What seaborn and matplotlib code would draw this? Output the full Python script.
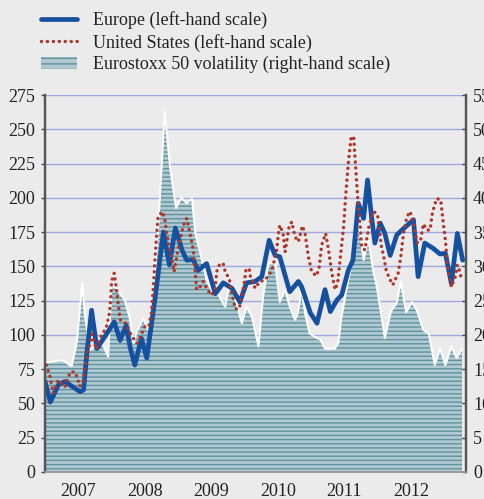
import numpy as np
import pandas as pd
import matplotlib
matplotlib.use('Agg')
import matplotlib.pyplot as plt
from matplotlib.lines import Line2D
from matplotlib.patches import Patch
import seaborn as sns

# time axis in decimal years
europe_t = [2007.00, 2007.08, 2007.20, 2007.30, 2007.42, 2007.53, 2007.58, 2007.63, 2007.70, 2007.78,
            2007.93, 2008.04, 2008.13, 2008.22, 2008.28, 2008.35, 2008.45, 2008.53, 2008.65, 2008.78,
            2008.87, 2008.96, 2009.06, 2009.13, 2009.23, 2009.30, 2009.43, 2009.56, 2009.68, 2009.81,
            2009.93, 2010.03, 2010.16, 2010.26, 2010.37, 2010.46, 2010.53, 2010.68, 2010.81, 2010.86,
            2010.99, 2011.09, 2011.21, 2011.29, 2011.39, 2011.46, 2011.56, 2011.63, 2011.71, 2011.79,
            2011.85, 2011.91, 2011.96, 2012.04, 2012.11, 2012.19, 2012.29, 2012.39, 2012.54, 2012.61,
            2012.71, 2012.84, 2012.94, 2013.02, 2013.11, 2013.20, 2013.28]
europe_v = [66, 51, 63.5, 66, 62, 58.5, 60, 87, 118, 90,
            101, 109.5, 96, 107, 91, 78, 97.5, 83, 125, 175,
            151, 178, 162, 154.5, 155, 147, 152, 130, 138, 134,
            124, 138, 139, 142.5, 169, 158, 157, 131.5, 139, 135,
            116, 108.5, 133, 117, 125.5, 129, 147, 154.5, 196, 185,
            213, 186, 167, 181.5, 174, 158, 173, 177.5, 184, 142.5,
            167, 163, 159, 159.5, 137.5, 174, 154.5]

us_t = [2007.02, 2007.08, 2007.12, 2007.20, 2007.30, 2007.38, 2007.45, 2007.49, 2007.52, 2007.57,
        2007.63, 2007.71, 2007.74, 2007.77, 2007.85, 2007.92, 2007.97, 2007.99, 2008.00, 2008.04,
        2008.07, 2008.10, 2008.13, 2008.20, 2008.31, 2008.39, 2008.50, 2008.56, 2008.60, 2008.63,
        2008.65, 2008.68, 2008.70, 2008.76, 2008.80, 2008.83, 2008.91, 2008.94, 2009.00, 2009.08,
        2009.13, 2009.18, 2009.23, 2009.26, 2009.28, 2009.33, 2009.38, 2009.43, 2009.50, 2009.56,
        2009.58, 2009.63, 2009.68, 2009.71, 2009.77, 2009.81, 2009.84, 2009.86, 2009.92, 2009.96,
        2009.99, 2010.02, 2010.07, 2010.09, 2010.16, 2010.23, 2010.31, 2010.41, 2010.48, 2010.51,
        2010.53, 2010.58, 2010.61, 2010.67, 2010.71, 2010.76, 2010.81, 2010.87, 2010.91, 2010.96,
        2011.01, 2011.08, 2011.12, 2011.16, 2011.22, 2011.26, 2011.31, 2011.36, 2011.40, 2011.44,
        2011.49, 2011.52, 2011.56, 2011.60, 2011.64, 2011.67, 2011.70, 2011.74, 2011.76, 2011.81,
        2011.87, 2011.94, 2012.00, 2012.06, 2012.09, 2012.13, 2012.18, 2012.23, 2012.31, 2012.35,
        2012.39, 2012.44, 2012.49, 2012.54, 2012.60, 2012.65, 2012.69, 2012.74, 2012.79, 2012.82,
        2012.85, 2012.89, 2012.95, 2012.99, 2013.02, 2013.06, 2013.11, 2013.17, 2013.20, 2013.24,
        2013.26]
us_v = [78, 69, 57.5, 67, 62, 73, 73, 68, 62.5, 65,
        85, 100.5, 95, 89.5, 100, 105, 116, 128, 139, 145,
        135, 123, 111, 109.5, 98.5, 94, 106, 106, 116, 135,
        152, 174, 186, 190, 185, 174, 154.5, 146, 162, 180,
        185, 174, 162, 145, 133, 135, 139, 134, 129, 134,
        146, 152, 152, 146, 141, 130, 124, 119, 119, 128,
        136, 147, 148.5, 142, 134, 139, 140, 147, 160.5, 174,
        180, 174, 160.5, 179, 182.5, 171.5, 168, 179.5, 174, 157,
        146, 143, 148.5, 165.5, 174, 163, 146, 133, 138, 156,
        179, 201, 225, 243, 245, 222.5, 201, 179, 164, 162,
        179, 190, 188, 164, 158, 147, 141, 136.5, 145, 157,
        174, 186, 190, 181, 167, 170, 181, 176.5, 176.5, 187.5,
        193.5, 199.5, 198.5, 181, 169, 147, 135, 142.5, 151, 146,
        140]

vol_t = [2007.00, 2007.12, 2007.23, 2007.30, 2007.40, 2007.48, 2007.56, 2007.60, 2007.68, 2007.78,
         2007.85, 2007.95, 2008.00, 2008.07, 2008.13, 2008.20, 2008.28, 2008.33, 2008.38, 2008.48,
         2008.55, 2008.60, 2008.70, 2008.80, 2008.88, 2008.97, 2009.05, 2009.13, 2009.21, 2009.26,
         2009.36, 2009.43, 2009.53, 2009.61, 2009.71, 2009.76, 2009.83, 2009.88, 2009.96, 2010.03,
         2010.11, 2010.21, 2010.28, 2010.36, 2010.46, 2010.53, 2010.61, 2010.68, 2010.76, 2010.80,
         2010.86, 2010.91, 2010.98, 2011.06, 2011.14, 2011.21, 2011.36, 2011.41, 2011.46, 2011.56,
         2011.64, 2011.71, 2011.79, 2011.86, 2011.94, 2011.99, 2012.04, 2012.11, 2012.20, 2012.29,
         2012.35, 2012.43, 2012.52, 2012.59, 2012.69, 2012.77, 2012.86, 2012.94, 2013.02, 2013.11,
         2013.19, 2013.27]
vol_v = [16, 16.1, 16.3, 16.1, 15.4, 19, 27.6, 22.7, 17.8, 18.5,
         19, 16.8, 27.3, 26.8, 26, 25.1, 22.2, 18.8, 20.5, 22.4,
         20.7, 22.2, 35.3, 52.6, 44.5, 38.5, 40, 39.2, 39.9, 34.8,
         30.9, 28, 26, 25.8, 24.1, 26.8, 26.3, 24.5, 21.7, 24.1,
         22.7, 18.3, 25.6, 30.4, 30.4, 24.8, 26.6, 24.1, 22.2, 23.1,
         26.8, 23.1, 20.2, 19.7, 19.3, 18, 18, 18.8, 22.7, 28,
         31.4, 37, 30.9, 34.1, 29, 27, 23.9, 19.5, 23.4, 24.7,
         27.8, 23.3, 24.8, 23.6, 20.7, 20.2, 15.6, 18, 15.6, 18.3,
         16.6, 18]

years = [2007, 2008, 2009, 2010, 2011, 2012]

bg = '#ebebeb'
blue = '#1650a0'
red = '#b0362c'
fill_col = '#b0c9d0'
stripe_col = '#5f929f'
grid_col = '#9fa8e0'
us_dots = (0, (0.01, 1.7))

sns.set_theme(style='white', rc={'figure.facecolor': bg, 'axes.facecolor': bg,
                                 'savefig.facecolor': bg, 'hatch.linewidth': 1.0})
plt.rcParams['font.family'] = ['Liberation Serif', 'DejaVu Serif']

europe = pd.DataFrame({'t': europe_t, 'v': europe_v})
us = pd.DataFrame({'t': us_t, 'v': us_v})
vol = pd.DataFrame({'t': vol_t, 'v': vol_v})

fig = plt.figure(figsize=(4.85, 4.99), dpi=100)
ax = fig.add_axes([45 / 485, 1 - 472 / 499, 421 / 485, 377 / 499])
ax2 = ax.twinx()
ax.set_zorder(3)
ax2.set_zorder(1)
ax.patch.set_visible(False)
ax2.patch.set_facecolor(bg)

# volatility area (right-hand scale), grid sits behind it
ax2.set_axisbelow(True)
ax2.fill_between(vol['t'], 0, vol['v'], facecolor=fill_col, edgecolor=stripe_col,
                 hatch='----', linewidth=0, zorder=2)
sns.lineplot(data=vol, x='t', y='v', ax=ax2, color='white', lw=1.4, zorder=3)
ax2.set_ylim(0, 55)
ax2.set_yticks(np.arange(0, 56, 5))
ax2.grid(True, axis='both', color=grid_col, lw=1.0)
ax2.set_ylabel('')

# equity lines (left-hand scale)
sns.lineplot(data=europe, x='t', y='v', ax=ax, color=blue, lw=3.4,
             solid_joinstyle='round', solid_capstyle='round')
sns.lineplot(data=us, x='t', y='v', ax=ax, color=red, lw=2.5,
             linestyle=us_dots, dash_capstyle='round')
ax.set_ylim(0, 275)
ax.set_yticks(np.arange(0, 276, 25))
ax.set_xlim(2007.0, 2013.33)
ax.set_xlabel('')
ax.set_ylabel('')

ax.set_xticks(years + [2013])
ax.set_xticklabels([])
ax.set_xticks([y + 0.5 for y in years], minor=True)
ax.set_xticklabels([str(y) for y in years], minor=True)
ax.tick_params(axis='x', which='major', direction='out', length=5, width=1.5, color='#222')
ax.tick_params(axis='x', which='minor', length=0, labelsize=13, pad=8, labelcolor='#222')
ax.tick_params(axis='y', direction='out', length=3, width=1, color='#444',
               labelsize=13, labelcolor='#222', pad=4)
ax2.tick_params(axis='y', direction='in', length=3, width=1, color='#444',
                labelsize=13, labelcolor='#222', pad=5)

for a in (ax, ax2):
    a.spines['top'].set_visible(False)
    a.spines['left'].set_color('#555')
    a.spines['left'].set_linewidth(1.6)
    a.spines['right'].set_color('#555')
    a.spines['right'].set_linewidth(1.6)
    a.spines['bottom'].set_color('#999')
    a.spines['bottom'].set_linewidth(1.2)

handles = [
    Line2D([], [], color=blue, lw=3.4),
    Line2D([], [], color=red, lw=2.5, linestyle=us_dots, dash_capstyle='round'),
    Patch(facecolor=fill_col, edgecolor=stripe_col, hatch='---', lw=0),
]
labels = ['Europe (left-hand scale)', 'United States (left-hand scale)',
          'Eurostoxx 50 volatility (right-hand scale)']
leg = fig.legend(handles, labels, loc='upper left', bbox_to_anchor=(34 / 485, 1 - 4 / 499),
                 frameon=False, fontsize=13, handlelength=2.0, handletextpad=0.85,
                 labelspacing=0.25, borderaxespad=0)
for txt in leg.get_texts():
    txt.set_color('#222')

fig.savefig('out.png', dpi=100)
